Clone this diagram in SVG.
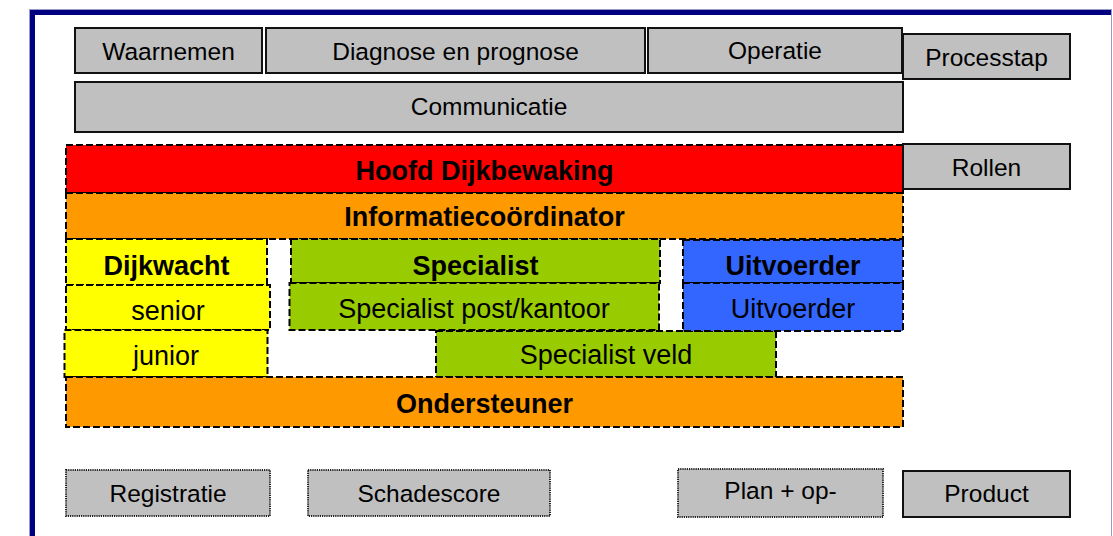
<svg xmlns="http://www.w3.org/2000/svg" width="1113" height="536" viewBox="0 0 1113 536">
<defs>
<style>
.t{font-family:"Liberation Sans",Arial,sans-serif;fill:#000;text-anchor:middle}
.n{font-size:24.5px}
.b{font-size:27px;font-weight:bold}
.m{font-size:27px}
.gs{fill:#C0C0C0;stroke:#111;stroke-width:2}
.gd{fill:#C0C0C0;stroke:#222;stroke-width:2;stroke-dasharray:1.2 1}
.cd{stroke:#000;stroke-width:2;stroke-dasharray:7 3}
</style>
</defs>
<rect x="0" y="0" width="1113" height="536" fill="#fff"/>
<g id="frame">
<rect x="29.5" y="9.5" width="1082" height="540" fill="none" stroke="#9999CC" stroke-width="1"/>
<path d="M32.5 536 V12.5 H1111" fill="none" stroke="#000080" stroke-width="5"/>
</g>
<g id="connectors"></g>
<g id="waarnemen"><rect class="gs" x="75" y="28" width="187" height="45"/><text class="t n" x="168.5" y="60">Waarnemen</text></g>
<g id="diagnose"><rect class="gs" x="266" y="28" width="379" height="45"/><text class="t n" x="455.5" y="60">Diagnose en prognose</text></g>
<g id="operatie"><rect class="gs" x="648" y="28" width="254" height="45"/><text class="t n" x="775" y="59">Operatie</text></g>
<g id="processtap"><rect class="gs" x="903" y="34" width="167" height="45"/><text class="t n" x="986.5" y="66">Processtap</text></g>
<g id="communicatie"><rect class="gs" x="75" y="82" width="828" height="50"/><text class="t n" x="489" y="115">Communicatie</text></g>
<g id="hoofd"><rect class="cd" fill="#FF0000" x="66" y="145" width="837" height="48"/><text class="t b" x="484.5" y="180">Hoofd Dijkbewaking</text></g>
<g id="rollen"><rect class="gs" x="903" y="144" width="167" height="45"/><text class="t n" x="986.5" y="176">Rollen</text></g>
<g id="informatiecoordinator"><rect class="cd" fill="#FF9900" x="66" y="193" width="837" height="46"/><text class="t b" x="484.5" y="226">Informatiecoördinator</text></g>
<g id="dijkwacht"><rect class="cd" fill="#FFFF00" x="66" y="239" width="201" height="46"/><text class="t b" x="166.5" y="275">Dijkwacht</text></g>
<g id="senior"><rect class="cd" fill="#FFFF00" x="66" y="285" width="204" height="45"/><text class="t m" x="168" y="320">senior</text></g>
<g id="junior"><rect class="cd" fill="#FFFF00" x="64.5" y="330" width="203" height="47"/><text class="t m" x="166" y="365">junior</text></g>
<g id="specialist"><rect class="cd" fill="#99CC00" x="291" y="239" width="369" height="44"/><text class="t b" x="475.5" y="275">Specialist</text></g>
<g id="specialist-post"><rect class="cd" fill="#99CC00" x="289.5" y="283" width="369.5" height="47"/><text class="t m" x="474" y="318">Specialist post/kantoor</text></g>
<g id="specialist-veld"><rect class="cd" fill="#99CC00" x="436" y="331" width="340" height="46"/><text class="t m" x="606" y="364">Specialist veld</text></g>
<g id="uitvoerder-kop"><rect class="cd" fill="#3366FF" x="683" y="240" width="220" height="43"/><text class="t b" x="793" y="275">Uitvoerder</text></g>
<g id="uitvoerder"><rect class="cd" fill="#3366FF" x="683" y="283" width="220" height="48"/><text class="t m" x="793" y="318">Uitvoerder</text></g>
<g id="ondersteuner"><rect class="cd" fill="#FF9900" x="66" y="377" width="837" height="50"/><text class="t b" x="484.5" y="413">Ondersteuner</text></g>
<g id="registratie"><rect class="gd" x="66" y="470" width="204" height="46"/><text class="t n" x="168" y="502">Registratie</text></g>
<g id="schadescore"><rect class="gd" x="308" y="470" width="242" height="46"/><text class="t n" x="429" y="502">Schadescore</text></g>
<g id="plan"><rect class="gd" x="678" y="469" width="205" height="48"/><text class="t n" x="780.5" y="499">Plan + op-</text></g>
<g id="product"><rect class="gs" x="903" y="471" width="167" height="46"/><text class="t n" x="986.5" y="502">Product</text></g>
</svg>
